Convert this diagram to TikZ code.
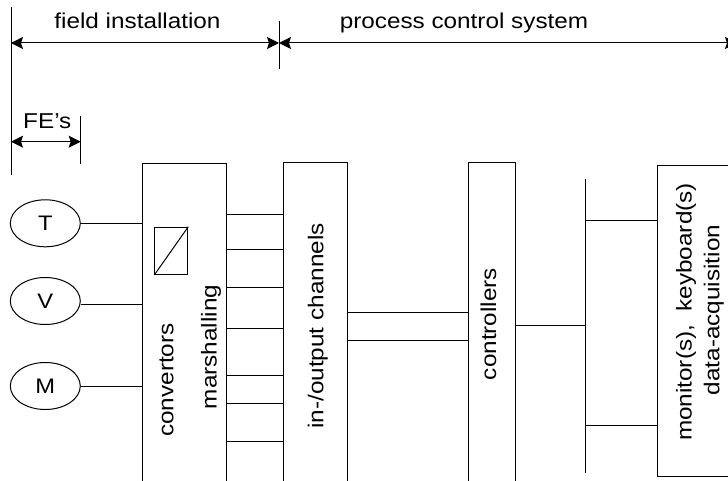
\documentclass[tikz,border=0pt]{standalone}
\usepackage{fontspec}
\usepackage{graphicx}
\setmainfont{Liberation Sans}
\usetikzlibrary{arrows.meta,shapes.geometric}
\newcommand{\wtxt}[1]{\scalebox{1.13}[1]{#1}}
\begin{document}
\begin{tikzpicture}[x=1pt,y=-1pt,line width=1pt,
  lbl/.style={inner sep=0pt, font=\fontsize{21.5}{26}\selectfont},
  vlbl/.style={lbl, rotate=90, anchor=base},
  box/.style={draw, rectangle, anchor=north west, inner sep=0pt},
  fe/.style={draw, ellipse, minimum width=70pt, minimum height=47pt, inner sep=0pt, font=\fontsize{21}{26}\selectfont},
  tip/.tip={Stealth[length=12pt,width=12pt,inset=2pt]},
  dim/.style={tip-tip},
]
\useasboundingbox (0,0) rectangle (728,481);
\clip (0,0) rectangle (728,481);
% dimension lines
\coordinate (L0) at (11,7);
\coordinate (L1) at (11,175);
\coordinate (M0) at (279,21);
\coordinate (M1) at (279,69);
\coordinate (F0) at (80.7,116);
\coordinate (F1) at (80.7,164);
\coordinate (R) at (737,43);
\draw (L0) -- (L1);
\draw (M0) -- (M1);
\draw (F0) -- (F1);
\draw[dim] (L0 |- R) -- (M0 |- R);
\draw[dim] (M0 |- R) -- (R);
\draw[dim] (L0 |- 0,141.7) -- (F0 |- 0,141.7);
\node[lbl, anchor=base] (tfi) at (137.5,28.3) {\wtxt{field installation}};
\node[lbl, anchor=base] (tpc) at (464,28.3) {\wtxt{process control system}};
\node[lbl, anchor=base] (tfe) at (47.3,128.3) {\wtxt{FE's}};

% field elements
\node[fe] (T) at (45.3,223.3) {\wtxt{T}};
\node[fe] (V) at (45.3,301) {\wtxt{V}};
\node[fe] (M) at (45.3,386) {\wtxt{M}};

% boxes
\node[box, minimum width=84.3pt, minimum height=340pt] (b1) at (141.7,163.3) {};
\node[box, minimum width=64pt, minimum height=340pt] (b2) at (283.3,161.7) {};
\node[box, minimum width=46.7pt, minimum height=340pt] (b3) at (468.3,161.7) {};
\node[box, minimum width=100pt, minimum height=311pt] (b4) at (656.7,165) {};

% converter symbol
\node[draw, rectangle, anchor=north west, inner sep=0pt, minimum width=33pt, minimum height=47.3pt] (conv) at (154.3,226.7) {};
\draw (conv.south west) -- (conv.north east);

% labels
\node[vlbl] (tconv) at (173.3,380) {\wtxt{convertors}};
\node[vlbl] (tmar) at (216.7,347) {\wtxt{marshalling}};
\node[vlbl] (tio) at (323.3,326) {\wtxt{in-/output channels}};
\node[vlbl] (tctl) at (496,324) {\wtxt{controllers}};
\node[vlbl] (tmon) at (691.7,312) {\wtxt{monitor(s),~ keyboard(s)}};
\node[vlbl] (tdaq) at (719.3,310) {\wtxt{data-acquisition}};

% connections field elements -> box1
\draw (T.east) -- (T.east -| b1.west);
\draw (V.east |- 0,304.3) -- (b1.west |- 0,304.3);
\draw (M.east) -- (M.east -| b1.west);

% box1 -> box2
\foreach \yy in {215,249.3,287.7,328.3,375,403.3,441.7}
  \draw (b1.east |- 0,\yy) -- (b2.west |- 0,\yy);

% box2 -> box3
\foreach \yy in {312,340.3}
  \draw (b2.east |- 0,\yy) -- (b3.west |- 0,\yy);

% bus
\coordinate (bus0) at (585,179.3);
\coordinate (bus1) at (585,472.7);
\draw (bus0) -- (bus1);
\draw (b3.east |- 0,325) -- (bus0 |- 0,325);
\draw (bus0 |- 0,221) -- (b4.west |- 0,221);
\draw (bus0 |- 0,425) -- (b4.west |- 0,425);
\end{tikzpicture}
\end{document}
